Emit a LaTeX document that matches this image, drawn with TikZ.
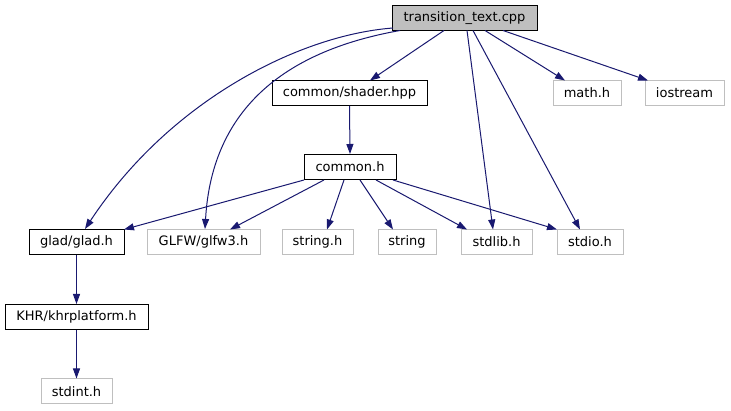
\documentclass[tikz,border=0pt]{standalone}
\usepackage{fontspec}
\setmainfont{DejaVu Sans}
\usetikzlibrary{arrows.meta,calc}
\definecolor{edgeblue}{HTML}{191970}
\definecolor{lightgrayb}{HTML}{BFBFBF}
\begin{document}
\begin{tikzpicture}[x=1pt,y=-1pt,
  box/.style={draw=black,line width=1pt,minimum height=25pt,inner sep=0pt,font=\fontsize{13}{15}\selectfont,anchor=center},
  ext/.style={box,draw=lightgrayb},
  dep/.style={draw=edgeblue,line width=1pt,-{Triangle[length=10pt,width=7pt]}}]
\useasboundingbox (0,0) rectangle (731,411);
\fill[white] (0,0) rectangle (731,411);
% nodes
\node[box,fill=lightgrayb,minimum width=145pt] (cpp) at (464.5,18) {transition\_text.cpp};
\node[box,minimum width=155pt] (shader) at (349.5,93) {common/shader.hpp};
\node[ext,minimum width=68pt] (math) at (587,93) {math.h};
\node[ext,minimum width=79pt] (iostream) at (684.5,93) {iostream};
\node[box,minimum width=92pt] (common) at (350,167) {common.h};
\node[box,minimum width=95pt] (glad) at (76.5,242) {glad/glad.h};
\node[ext,minimum width=113pt] (glfw) at (203.5,242) {GLFW/glfw3.h};
\node[ext,minimum width=71pt] (stringh) at (317.5,242) {string.h};
\node[ext,minimum width=58pt] (string) at (407,242) {string};
\node[ext,minimum width=71pt] (stdlib) at (496.5,242) {stdlib.h};
\node[ext,minimum width=66pt] (stdio) at (590,242) {stdio.h};
\node[box,minimum width=143pt] (khr) at (76.5,317) {KHR/khrplatform.h};
\node[ext,minimum width=71pt] (stdint) at (76.5,391.5) {stdint.h};
% edges from transition_text.cpp
\draw[dep] ($(cpp)+(-71.5,10)$) .. controls (300,35) and (170,100) .. ($(glad)+(8.5,-13)$);
\draw[dep] ($(cpp)+(-64.5,12.5)$) .. controls (290,50) and (212,105) .. ($(glfw)+(1.5,-13)$);
\draw[dep] ($(cpp)+(-20.5,12.5)$) -- ($(shader)+(20.5,-12.5)$);
\draw[dep] ($(cpp)+(2.5,12.5)$) -- ($(stdlib)+(-3.5,-12.5)$);
\draw[dep] ($(cpp)+(8.5,12.5)$) -- ($(stdio)+(-10,-12.5)$);
\draw[dep] ($(cpp)+(20.5,12.5)$) -- ($(math)+(-22,-12.5)$);
\draw[dep] ($(cpp)+(38.5,12.5)$) -- ($(iostream)+(-36.5,-12.5)$);
% shader
\draw[dep] (shader.south) -- (common.north);
% edges from common.h
\draw[dep] ($(common)+(-46,13)$) -- ($(glad)+(47.5,-12.5)$);
\draw[dep] ($(common)+(-26,13)$) -- ($(glfw)+(26.5,-12.5)$);
\draw[dep] ($(common)+(-6,13)$) -- ($(stringh)+(9.5,-12.5)$);
\draw[dep] ($(common)+(10,13)$) -- ($(string)+(-14,-12.5)$);
\draw[dep] ($(common)+(26,13)$) -- ($(stdlib)+(-29.5,-12.5)$);
\draw[dep] ($(common)+(43,13)$) -- ($(stdio)+(-33,-12.5)$);
% lower chain
\draw[dep] (glad.south) -- (khr.north);
\draw[dep] (khr.south) -- (stdint.north);
\end{tikzpicture}
\end{document}
